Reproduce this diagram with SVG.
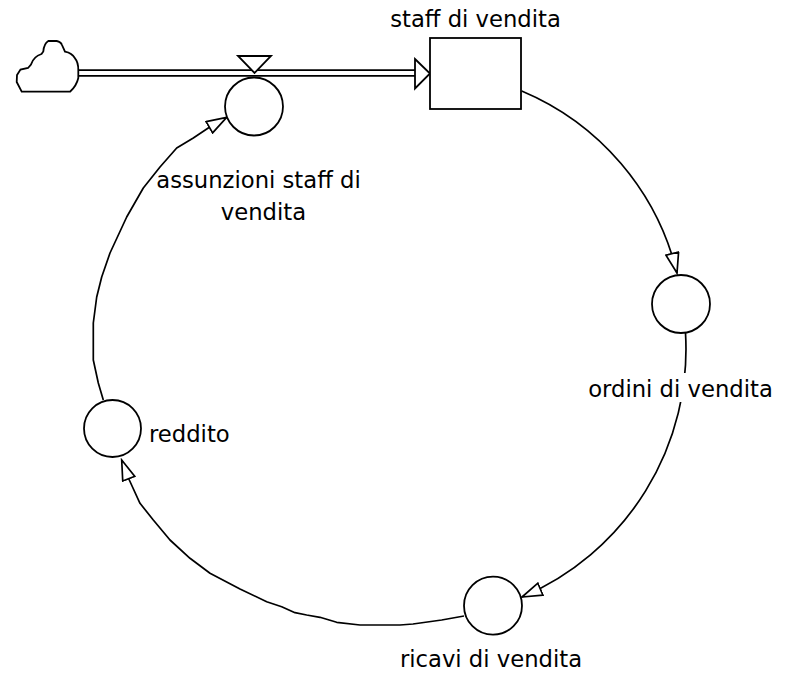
<svg xmlns="http://www.w3.org/2000/svg" width="786" height="679" viewBox="0 0 786 679">
  <style>
    .shape { fill: #ffffff; stroke: #000000; stroke-width: 1.8; }
    .link { fill: none; stroke: #000000; stroke-width: 1.7; stroke-linejoin: round; marker-end: url(#arrow); }
    .pipe { fill: none; stroke: #000000; stroke-width: 1.7; }
    .label { font-family: "DejaVu Sans", Verdana, sans-serif; font-size: 22.7px; fill: #000000; }
    .mid { text-anchor: middle; }
  </style>
  <defs>
    <marker id="arrow" markerUnits="userSpaceOnUse" viewBox="-1 -1 23 15" refX="20" refY="6.5" markerWidth="23" markerHeight="15" orient="auto">
      <path d="M0,0 L20,6.5 L0,13 Z" fill="#ffffff" stroke="#000000" stroke-width="1.7" stroke-linejoin="miter"/>
    </marker>
  </defs>
  <rect width="786" height="679" fill="#ffffff"/>

  <g id="connectors">
    <g id="flow-pipe">
      <line class="pipe" x1="78" y1="70.2" x2="416" y2="70.2"/>
      <line class="pipe" x1="78" y1="75.8" x2="416" y2="75.8"/>
      <path class="shape" d="M415,59 L430,73.5 L415,88.5 Z"/>
    </g>
    <path id="link-staff-ordini" class="link" d="M521.7,91 A265.6,265.6 0 0 1 677,273"/>
    <path id="link-ordini-ricavi" class="link" d="M685.5,333 A269.5,269.5 0 0 1 522,597"/>
    <path id="link-ricavi-reddito" class="link" d="M464,616 L441.7,620 L413,624 L400,625 L360,625 L336.7,622.3 L320,617.3 L306.7,615 L295,612.7 L281.7,606.7 L266.7,601.7 L240,589 L210,573.3 L190,558.3 L170,540 L153.3,520 L140,503.3 L129.3,480 L121.7,460"/>
    <path id="link-reddito-assunzioni" class="link" d="M103.3,400 L98.3,383 L93.3,360 L93.3,323 L96.7,297 L101.7,277 L110,253 L126.7,217 L143.3,188 L160,167 L176.7,148 L193.3,138 L209,127.5 L226.7,117.3"/>
  </g>

  <g id="cloud-source">
    <path class="shape" d="M21.7,91.7 L16.7,82 L17,75 L20.5,69.5 L28,68 L31,64.5 Q33.5,56.5 41.5,54 L43.3,51.5 Q44,43.5 48.3,41 L56.7,41 Q61,42 62,45 L65,51.7 Q72,53 75,58.3 Q78.3,62 78.3,70 L78.3,78 Q76.5,86 70,91.7 Z"/>
  </g>

  <g id="node-assunzioni">
    <circle class="shape" cx="254" cy="106.5" r="29"/>
    <path class="shape" d="M238,56 L271,56 L254.5,73 Z"/>
    <text class="label mid" x="258.5" y="188.3">assunzioni staff di</text>
    <text class="label mid" x="263.5" y="220">vendita</text>
  </g>

  <g id="node-staff">
    <rect class="shape" x="430" y="38" width="91" height="71"/>
    <text class="label mid" x="475.5" y="27">staff di vendita</text>
  </g>

  <g id="node-ordini">
    <circle class="shape" cx="681" cy="304" r="29"/>
    <rect x="586" y="373" width="190" height="29" fill="#ffffff"/>
    <text class="label mid" x="680.5" y="396.7">ordini di vendita</text>
  </g>

  <g id="node-ricavi">
    <circle class="shape" cx="493" cy="605.7" r="29"/>
    <text class="label mid" x="491" y="667">ricavi di vendita</text>
  </g>

  <g id="node-reddito">
    <circle class="shape" cx="112.5" cy="428.5" r="28.5"/>
    <text class="label" x="149" y="441.7">reddito</text>
  </g>
</svg>
